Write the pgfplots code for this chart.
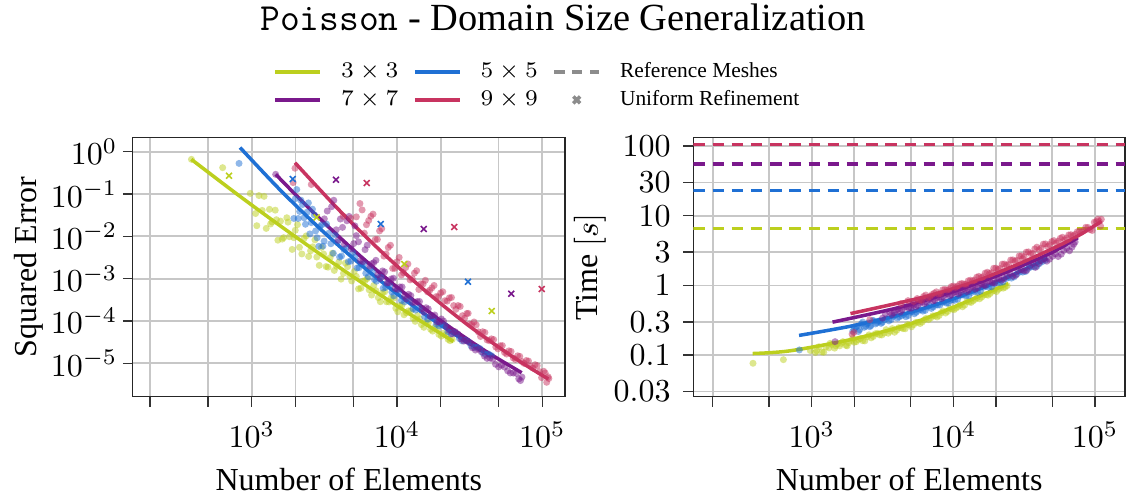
\documentclass[border=0pt]{standalone}
\usepackage{fontspec}
\setmainfont{Liberation Serif}
\usepackage{pgfplots}
\usepackage{pgfplotstable}
\pgfplotsset{compat=1.18}

\definecolor{c3}{HTML}{BCCF1E}
\definecolor{c5}{HTML}{1F70D4}
\definecolor{c7}{HTML}{7A198C}
\definecolor{c9}{HTML}{C83460}
\definecolor{refgray}{HTML}{8C8C8C}

% columns: number of elements, squared error, wall time [s]
\pgfplotstableread{
N err time
385 0.66 0.0764
631 0.42 0.0861
977 0.1035 0.1164
1063 0.0346 0.1089
1122 0.092 0.1315
1181 0.041 0.111
1259 0.0154 0.131
1325 0.0435 0.127
1380 0.0218 0.142
1452 0.0415 0.126
1514 0.0081 0.144
1579 0.0229 0.136
1660 0.0093 0.156
1745 0.0275 0.138
1820 0.0098 0.151
1898 0.0049 0.161
1995 0.0139 0.153
2131 0.0055 0.167
2291 0.00885 0.161
2466 0.00334 0.183
2630 0.00565 0.177
2806 0.00324 0.202
3020 0.00547 0.195
3251 0.00193 0.207
3467 0.00313 0.206
3702 0.00156 0.240
3981 0.00247 0.227
4281 0.00133 0.247
4571 0.00192 0.239
4877 0.00088 0.272
5248 0.00113 0.274
5640 0.000594 0.296
6026 0.00090 0.298
6432 0.000545 0.337
6918 0.00069 0.340
7440 0.000355 0.367
7943 0.000459 0.370
8470 0.000284 0.429
9120 0.000352 0.423
9810 0.000200 0.457
10470 0.000230 0.473
11180 0.000140 0.526
12020 0.000173 0.521
12930 0.000116 0.579
13800 0.000134 0.601
14720 0.000082 0.668
15850 0.000091 0.678
17050 0.000063 0.736
18200 0.000070 0.764
19420 0.000048 0.849
20890 0.000051 0.881
22480 0.0000367 0.914
23990 0.0000364 0.993
1084 0.01784 0.1156
1216 0.0882 0.110
1349 0.0196 0.1476
1479 0.0247 0.136
1622 0.0086 0.1476
1778 0.02166 0.136
1950 0.00928 0.174
2065 0.0189 0.156
2213 0.00383 0.173
2371 0.01025 0.160
2541 0.00455 0.1954
2723 0.00823 0.185
2917 0.00206 0.2056
3126 0.00382 0.1945
3350 0.001866 0.2317
3589 0.00398 0.2198
3846 0.001945 0.2128
4121 0.000973 0.2477
4416 0.00233 0.2399
4732 0.001143 0.2735
5070 0.001473 0.2547
5433 0.000573 0.2944
5821 0.00087 0.2838
6237 0.001001 0.3206
6683 0.000409 0.3236
7161 0.000517 0.3656
7674 0.000285 0.3524
8222 0.000487 0.4074
8810 0.000282 0.4018
9441 0.000341 0.4656
10120 0.0001643 0.4487
10840 0.000239 0.4989
11610 0.0001558 0.4943
12450 0.0001722 0.5888
13340 0.0000978 0.5702
14290 0.0001108 0.6339
15310 0.0000707 0.6427
16410 0.0000899 0.7311
17580 0.0000574 0.7244
18840 0.0000638 0.824
20180 0.0000437 0.8166
21630 0.0000464 0.929
23170 0.0000341 0.9419
}\tabA

\pgfplotstableread{
N err time
818 0.53 0.1186
1995 0.0774 0.232
2089 0.0264 0.260
2180 0.0716 0.232
2291 0.0274 0.298
2410 0.0374 0.259
2512 0.0114 0.290
2618 0.0439 0.265
2754 0.0134 0.310
2897 0.0058 0.290
3020 0.0186 0.310
3150 0.0077 0.296
3388 0.0118 0.335
3645 0.00397 0.324
3890 0.00718 0.375
4150 0.00342 0.354
4467 0.0053 0.383
4808 0.0026 0.370
5129 0.0032 0.422
5470 0.00181 0.411
5888 0.00225 0.450
6340 0.00111 0.439
6761 0.00142 0.514
7210 0.000867 0.490
7762 0.00108 0.524
8355 0.00062 0.573
8913 0.00068 0.558
9505 0.000392 0.611
10230 0.000461 0.612
11270 0.000282 0.721
12300 0.000308 0.706
13430 0.000181 0.794
14790 0.000178 0.798
16290 0.00011 0.940
17780 0.000117 0.942
19410 0.0000765 1.059
21380 0.000078 1.096
23550 0.0000492 1.253
25700 0.0000494 1.274
28050 0.0000337 1.455
30900 0.0000325 1.552
34030 0.0000234 1.770
37150 0.0000223 1.845
40550 0.0000161 2.060
44670 0.0000151 2.300
1950 0.02646 0.2198
2042 0.1274 0.2506
2138 0.03876 0.2183
2239 0.05646 0.2812
2344 0.0193 0.2506
2455 0.0616 0.2805
2570 0.0211 0.2559
2692 0.0323 0.314
2818 0.00923 0.280
2951 0.01702 0.3062
3090 0.00585 0.2858
3273 0.01943 0.3221
3508 0.00668 0.3105
3758 0.01076 0.3606
4027 0.003236 0.3396
4315 0.004889 0.3681
4624 0.002507 0.3556
4955 0.004075 0.412
5309 0.001788 0.3926
5689 0.002214 0.4395
6095 0.001346 0.4285
6531 0.001753 0.4909
6998 0.000954 0.4677
7499 0.001063 0.5236
8035 0.000594 0.5224
8610 0.000781 0.5848
9226 0.0004815 0.5585
9886 0.000517 0.6252
10720 0.000303 0.634
11750 0.000338 0.7295
12880 0.000194 0.7161
14130 0.000203 0.824
15490 0.000126 0.826
16980 0.0001272 0.973
18620 0.0000833 0.955
20420 0.0000809 1.101
22390 0.0000558 1.119
24550 0.0000534 1.309
26920 0.0000381 1.33
29510 0.000035 1.556
32360 0.0000257 1.585
35480 0.0000239 1.849
38900 0.00001768 1.884
42660 0.00001654 2.203
}\tabB

\pgfplotstableread{
N err time
1462 0.292 0.156
3162 0.0259 0.340
3548 0.0502 0.411
3820 0.01428 0.405
4074 0.02565 0.458
4345 0.00652 0.444
4677 0.0296 0.495
5035 0.00673 0.471
5248 0.0104 0.519
5600 0.00266 0.516
6026 0.00484 0.577
6486 0.00197 0.574
6918 0.00238 0.641
7380 0.00123 0.610
7943 0.00152 0.681
8550 0.000787 0.678
9120 0.00098 0.759
9730 0.000584 0.738
10470 0.000636 0.805
11270 0.000381 0.791
12020 0.000426 0.891
12820 0.000275 0.857
13800 0.000288 0.966
14860 0.000195 0.929
15850 0.000205 1.047
16900 0.000130 1.007
18200 0.000138 1.135
19590 0.0000941 1.089
20890 0.0000998 1.259
22810 0.0000605 1.259
25120 0.0000556 1.488
27660 0.0000372 1.403
30200 0.0000337 1.667
32960 0.0000232 1.644
36310 0.0000217 2.094
39990 0.0000147 2.070
43650 0.0000132 2.404
47640 0.00000946 2.377
52480 0.00000896 2.830
57800 0.00000661 2.806
63100 0.00000588 3.420
68870 0.00000427 3.548
72440 0.00000470 4.200
3311 0.03964 0.3895
3673 0.0712 0.381
3936 0.00807 0.4406
4217 0.01628 0.415
4519 0.0233 0.4853
4842 0.00506 0.472
5129 0.01768 0.5358
5433 0.00743 0.4943
5821 0.002513 0.5649
6237 0.00617 0.5495
6683 0.002244 0.6281
7161 0.00271 0.597
7674 0.001013 0.6668
8222 0.001442 0.6486
8810 0.000801 0.743
9441 0.00102 0.7063
10120 0.000556 0.7889
10840 0.000634 0.7528
11610 0.000331 0.869
12450 0.000397 0.8147
13340 0.000275 0.9419
14290 0.000288 0.8831
15310 0.0001627 1.045
16410 0.0001922 1.002
17580 0.000131 1.159
18840 0.0000936 1.086
20180 0.0001113 1.256
21880 0.0000725 1.189
23990 0.0000493 1.365
26300 0.0000487 1.349
28840 0.0000334 1.641
31620 0.0000303 1.618
34670 0.0000205 1.879
38020 0.0000187 1.816
41690 0.000013 2.259
45710 0.00001253 2.228
50120 0.0000082 2.621
54950 0.00000815 2.6
60260 0.00000588 3.17
66070 0.00000575 3.14
70790 0.0000039 3.91
}\tabC

\pgfplotstableread{
N err time
1928 0.186 0.200
1986 0.407 0.212
2570 0.168 0.322
4266 0.0296 0.548
4786 0.0267 0.605
5754 0.0421 0.615
6166 0.0188 0.695
6607 0.0298 0.662
7079 0.00843 0.740
7586 0.01344 0.809
8128 0.0034 0.769
8710 0.00545 0.879
9333 0.00174 0.877
10000 0.0025 0.980
10720 0.00122 0.977
11480 0.00183 1.067
12300 0.000937 1.040
13180 0.00135 1.189
14130 0.000553 1.190
15140 0.000749 1.349
16220 0.000487 1.334
17380 0.000604 1.545
18620 0.000376 1.528
19950 0.000458 1.770
21380 0.0003 1.750
22910 0.000351 2.028
24550 0.000231 2.004
26300 0.000231 2.323
28180 0.000133 2.296
30200 0.00015 2.661
31620 0.0000837 2.588
33880 0.0000945 3.027
36310 0.0000549 2.884
38900 0.0000555 3.540
41690 0.0000355 3.440
44670 0.0000377 3.945
47860 0.0000242 3.846
51290 0.0000259 4.395
54950 0.0000179 4.285
58880 0.0000196 4.910
63100 0.0000133 4.786
67610 0.000015 5.346
72440 0.0000109 5.383
77620 0.0000116 6.000
83180 0.00000848 6.100
89130 0.00000922 6.790
95500 0.00000633 6.150
102300 0.00000645 8.240
107200 0.00000354 8.320
109600 0.00000477 7.110
5248 0.02882 0.5894
5559 0.0596 0.6486
5957 0.01186 0.6109
6383 0.02366 0.7278
6839 0.0335 0.6918
7328 0.008455 0.7745
7852 0.01514 0.7534
8414 0.003836 0.8630
9016 0.006144 0.8590
9661 0.001755 0.9594
10350 0.003168 0.9354
11090 0.001375 1.045
11890 0.002223 1.042
12740 0.000992 1.164
13650 0.001538 1.159
14620 0.000756 1.311
15670 0.000913 1.294
16790 0.00053 1.503
17990 0.000689 1.483
19280 0.000374 1.762
20650 0.000489 1.698
22130 0.000293 2.018
23710 0.000358 1.95
25410 0.0001876 2.312
27230 0.00022 2.234
29170 0.0001159 2.649
30900 0.000151 2.421
32730 0.000082 2.999
35080 0.0000808 2.858
37580 0.0000428 3.342
40270 0.0000533 3.258
43150 0.0000341 3.908
46240 0.0000363 3.631
49550 0.0000218 4.256
53090 0.0000261 4.055
56890 0.00001648 4.742
60950 0.00001897 4.519
65310 0.00001229 5.297
69980 0.00001454 5.164
74990 0.00000991 5.881
80350 0.00001124 5.834
86100 0.0000077 6.808
92260 0.00000877 6.31
98860 0.00000457 8.07
104700 0.00000587 8.87
110900 0.00000435 8.89
}\tabD

\begin{document}
\begin{tikzpicture}
\path[use as bounding box] (0,0) rectangle (351.875pt,156.5625pt);

\node[anchor=base, font=\fontsize{12}{14}\selectfont] at (175.94pt,146.9pt)
  {\texttt{Poisson} - Domain Size Generalization};

% ---------------- squared error ----------------
\begin{axis}[
  name=errax, at={(41.47pt,32.59pt)}, anchor=south west,
  xmode=log, ymode=log, scale only axis,
  width=135.09pt, height=81.06pt,
  axis line style={draw=black!85, line width=0.45pt},
  grid=major, major grid style={draw=black!22, line width=0.55pt},
  tick align=outside, tick pos=left, major tick length=3.1pt,
  tick style={draw=black!80, line width=0.45pt},
  xminorticks=false, yminorticks=false,
  xtick={200,500,1000,2000,5000,10000,20000,50000,100000},
  xticklabels={,,$10^{3}$,,,$10^{4}$,,,$10^{5}$},
  tick label style={font=\fontsize{10}{12}\selectfont, inner sep=0pt},
  xticklabel style={anchor=base, yshift=-12.9pt},
  yticklabel style={anchor=east, xshift=-1.5pt},
  xmin=151.7, xmax=143300, ymin=1.615e-6, ymax=2.19,
  ytick={1e-5,1e-4,1e-3,1e-2,1e-1,1},
  yticklabels={$10^{-5}$,$10^{-4}$,$10^{-3}$,$10^{-2}$,$10^{-1}$,$10^{0}$},
  legend columns=3, legend cell align=left,
  legend image code/.code={\draw[mark repeat=2, mark phase=2, #1]
    plot coordinates {(0pt,0pt) (7pt,0pt) (14pt,0pt)};},
  legend style={at={(0.934,1.198)}, anchor=center, draw=none, fill=none,
    inner sep=0pt, font=\fontsize{6.7}{8}\selectfont, row sep=2.2pt,
    nodes={inner sep=0pt, text height=5pt, text depth=1.5pt},
    /tikz/every odd column/.append style={column sep=6.0pt},
    /tikz/every even column/.append style={column sep=4.6pt}},
]
\addlegendimage{no marks, c3, line width=1.1pt}
\addlegendentry{$3\times 3$}
\addlegendimage{no marks, c5, line width=1.1pt}
\addlegendentry{$5\times 5$}
\addlegendimage{no marks, refgray, line width=1.1pt, dash pattern=on 3.2pt off 2.4pt}
\addlegendentry{Reference Meshes}
\addlegendimage{no marks, c7, line width=1.1pt}
\addlegendentry{$7\times 7$}
\addlegendimage{no marks, c9, line width=1.1pt}
\addlegendentry{$9\times 9$}
\addlegendimage{only marks, mark=x, mark size=1.5pt, refgray, mark options={line width=1.1pt}}
\addlegendentry{Uniform Refinement}

% sampled runs
\addplot[forget plot, only marks, mark=*, mark size=1.1pt, color=c3, mark options={draw opacity=0, fill opacity=0.5}] table[x=N, y=err] {\tabA};
\addplot[forget plot, only marks, mark=*, mark size=1.1pt, color=c5, mark options={draw opacity=0, fill opacity=0.5}] table[x=N, y=err] {\tabB};
\addplot[forget plot, only marks, mark=*, mark size=1.1pt, color=c7, mark options={draw opacity=0, fill opacity=0.5}] table[x=N, y=err] {\tabC};
\addplot[forget plot, only marks, mark=*, mark size=1.1pt, color=c9, mark options={draw opacity=0, fill opacity=0.5}] table[x=N, y=err] {\tabD};

% fitted trends
\addplot[forget plot, no marks, smooth, c3, line width=1.1pt] coordinates {(384,0.661) (794,0.0989) (1585,0.01734) (3162,0.003238) (6310,6.44e-4) (12590,1.365e-4) (24410,3.27e-5)};
\addplot[forget plot, no marks, smooth, c5, line width=1.1pt] coordinates {(831,1.257) (1585,0.1206) (3162,0.01219) (6310,1.536e-3) (12590,2.415e-4) (25120,4.74e-5) (44850,1.433e-5)};
\addplot[forget plot, no marks, smooth, c7, line width=1.1pt] coordinates {(1463,0.2922) (2512,0.04426) (5012,4.764e-3) (10000,6.295e-4) (19950,1.021e-4) (39810,2.031e-5) (72150,5.963e-6)};
\addplot[forget plot, no marks, smooth, c9, line width=1.1pt] coordinates {(1986,0.5495) (3981,0.04224) (7943,4.11e-3) (15850,4.966e-4) (31620,7.46e-5) (63100,1.392e-5) (110000,4.227e-6)};

% uniform refinement
\addplot[forget plot, only marks, mark=x, mark size=1.3pt, c3, mark options={line width=0.5pt}] coordinates {(698,0.271) (2800,0.0281) (11220,0.00221) (44870,1.71e-4)};
\addplot[forget plot, only marks, mark=x, mark size=1.3pt, c5, mark options={line width=0.5pt}] coordinates {(1915,0.226) (7725,0.0195) (30800,8.45e-4)};
\addplot[forget plot, only marks, mark=x, mark size=1.3pt, c7, mark options={line width=0.5pt}] coordinates {(3802,0.218) (15270,0.0149) (61200,4.4e-4)};
\addplot[forget plot, only marks, mark=x, mark size=1.3pt, c9, mark options={line width=0.5pt}] coordinates {(6185,0.182) (24800,0.0166) (99100,5.68e-4)};
\end{axis}

% ---------------- time ----------------
\begin{axis}[
  name=timeax, at={(216.66pt,32.59pt)}, anchor=south west,
  xmode=log, ymode=log, scale only axis,
  width=134.9pt, height=81.06pt,
  axis line style={draw=black!85, line width=0.45pt},
  grid=major, major grid style={draw=black!22, line width=0.55pt},
  tick align=outside, tick pos=left, major tick length=3.1pt,
  tick style={draw=black!80, line width=0.45pt},
  xminorticks=false, yminorticks=false,
  xtick={200,500,1000,2000,5000,10000,20000,50000,100000},
  xticklabels={,,$10^{3}$,,,$10^{4}$,,,$10^{5}$},
  tick label style={font=\fontsize{10}{12}\selectfont, inner sep=0pt},
  xticklabel style={anchor=base, yshift=-12.9pt},
  yticklabel style={anchor=east, xshift=-3.8pt},
  xmin=145.9, xmax=162900, ymin=0.0253, ymax=133.4,
  ytick={0.03,0.1,0.3,1,3,10,30,100},
  yticklabels={$0.03$,$0.1$,$0.3$,$1$,$3$,$10$,$30$,$100$},
]
% reference-mesh timings
\addplot[forget plot, no marks, c9, line width=1.1pt, dash pattern=on 3.6pt off 2.4pt] coordinates {(145.9,106) (162900,106)};
\addplot[forget plot, no marks, c7, line width=1.1pt, dash pattern=on 3.6pt off 2.4pt] coordinates {(145.9,55.6) (162900,55.6)};
\addplot[forget plot, no marks, c5, line width=1.1pt, dash pattern=on 3.6pt off 2.4pt] coordinates {(145.9,23) (162900,23)};
\addplot[forget plot, no marks, c3, line width=1.1pt, dash pattern=on 3.6pt off 2.4pt] coordinates {(145.9,6.6) (162900,6.6)};

\addplot[forget plot, only marks, mark=*, mark size=1.1pt, color=c3, mark options={draw opacity=0, fill opacity=0.5}] table[x=N, y=time] {\tabA};
\addplot[forget plot, only marks, mark=*, mark size=1.1pt, color=c5, mark options={draw opacity=0, fill opacity=0.5}] table[x=N, y=time] {\tabB};
\addplot[forget plot, only marks, mark=*, mark size=1.1pt, color=c7, mark options={draw opacity=0, fill opacity=0.5}] table[x=N, y=time] {\tabC};
\addplot[forget plot, only marks, mark=*, mark size=1.1pt, color=c9, mark options={draw opacity=0, fill opacity=0.5}] table[x=N, y=time] {\tabD};

\addplot[forget plot, no marks, smooth, c3, line width=1.1pt] coordinates {(383,0.1054) (703,0.1153) (1966,0.1702) (4940,0.2802) (9984,0.486) (24400,1.058)};
\addplot[forget plot, no marks, smooth, c5, line width=1.1pt] coordinates {(814,0.1918) (1966,0.2647) (4940,0.4118) (9984,0.6426) (20210,1.116) (46140,2.428)};
\addplot[forget plot, no marks, smooth, c7, line width=1.1pt] coordinates {(1402,0.2974) (4200,0.486) (10550,0.847) (23780,1.556) (48050,2.867) (75730,4.85)};
\addplot[forget plot, no marks, smooth, c9, line width=1.1pt] coordinates {(1878,0.3945) (6132,0.678) (13810,1.116) (31140,2.169) (70200,4.72) (111300,8.33)};
\end{axis}

\node[anchor=base] at ([yshift=-29.16pt]errax.south) {Number of Elements};
\node[anchor=base] at ([yshift=-29.16pt]timeax.south) {Number of Elements};
\node[rotate=90, anchor=base] at ([xshift=-30.2pt]errax.west) {Squared Error};
\node[rotate=90, anchor=base] at ([xshift=-29.8pt]timeax.west) {Time $[s]$};
\end{tikzpicture}
\end{document}
